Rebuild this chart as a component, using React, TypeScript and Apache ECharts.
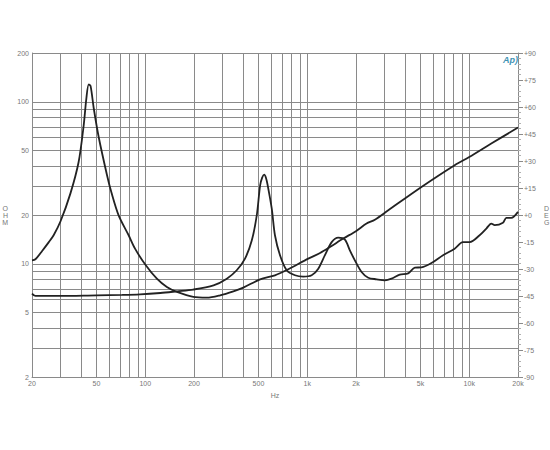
import React, { useEffect, useRef } from "react";
import * as echarts from "echarts";

const xGrid = [20,30,40,50,60,70,80,90,100,200,300,400,500,600,700,800,900,1000,2000,3000,4000,5000,6000,7000,8000,9000,10000,20000];
const xLabels = [20,50,100,200,500,1000,2000,5000,10000,20000];
const yGrid = [2,3,4,5,6,7,8,9,10,20,30,40,50,60,70,80,90,100,200];
const yLabels = [2,5,10,20,50,100,200];
const phaseSign = (v: number) => (v >= 0 ? "+" + v : String(v));

const curveAFreq = [20,21,23.1,25.4,27.2,30,34.5,38.8,41.7,43.3,44.8,46,48.1,51.6,58.1,61.8,68.5,79,86.5,100,118,136,157,198,240,290,350,403,512,632,764,1015,1200,1381,1668,1997,2324,2615,3164,5071,8130,10000,13680,20000];
const curveAOhm = [10.5,10.66,12,13.6,15,18.3,27.1,42.5,71.6,104.7,128,125,91.2,60.6,35.2,27.6,19.9,15,12.4,9.9,8.09,7.19,6.7,6.24,6.18,6.39,6.76,7.13,8.02,8.49,9.25,10.76,11.65,12.68,14.3,15.9,17.7,18.7,21.4,29.8,40.6,45.6,55.2,69.3];

const curveBFreq = [20,21,30,50,72,93,124,157,198,264,319,367,413,455,488,512,527,542,556,570,604,632,679,747,840,946,1065,1170,1286,1416,1554,1708,1833,1968,2165,2380,2680,3013,3314,3727,4196,4616,5071,5845,6890,8130,9140,10070,11590,12760,13680,14360,16150,16950,18190,20000];
const curveBOhm = [6.55,6.33,6.33,6.39,6.42,6.47,6.6,6.76,6.93,7.36,8.09,9.12,10.76,13.97,19.9,30.5,34,35.5,34,30.5,21.9,15,11.3,9.12,8.49,8.33,8.49,9.33,11.3,13.6,14.5,14.1,12.1,10.5,8.9,8.2,8.02,7.9,8.09,8.57,8.73,9.46,9.5,10.1,11.3,12.4,13.6,13.6,15,16.5,17.7,17.3,17.9,19.2,19.2,20.9];

const zip = (a: number[], b: number[]) => a.map((v, i) => [v, b[i]]);

const GREY = "#8a8a8a";
const TEXT = "#777777";

export default function App() {
  const ref = useRef<HTMLDivElement>(null);
  useEffect(() => {
    const chart = echarts.init(ref.current!, null, { renderer: "svg" });
    const lineStyle = { color: GREY, width: 1 };
    const labelBase = { color: TEXT, fontSize: 7, fontFamily: "Liberation Sans" };
    chart.setOption({
      animation: false,
      backgroundColor: "#ffffff",
      grid: { left: 32, right: 32, top: 53, height: 324, containLabel: false, outerBoundsMode: "none" },
      xAxis: {
        type: "log",
        min: 20,
        max: 20000,
        name: "Hz",
        nameLocation: "middle",
        nameGap: 15,
        nameTextStyle: labelBase,
        axisLine: { show: true, onZero: false, lineStyle },
        axisTick: { show: false, customValues: xGrid },
        minorTick: { show: false },
        splitLine: { show: true, lineStyle },
        axisLabel: {
          ...labelBase,
          margin: 3,
          customValues: xLabels,
          hideOverlap: false,
          showMinLabel: true,
          showMaxLabel: true,
          formatter: (v: number) => (v >= 1000 ? v / 1000 + "k" : String(v)),
        },
      },
      yAxis: [
        {
          type: "log",
          min: 2,
          max: 200,
          name: "O\nH\nM",
          nameLocation: "middle",
          nameRotate: 0,
          nameGap: 24,
          nameTextStyle: { ...labelBase, lineHeight: 7 },
          axisLine: { show: true, onZero: false, lineStyle },
          axisTick: { show: false, customValues: yGrid },
          minorTick: { show: false },
          splitLine: { show: true, lineStyle },
          axisLabel: {
            ...labelBase,
            margin: 3,
            customValues: yLabels,
            showMinLabel: true,
            showMaxLabel: true,
            formatter: (v: number) => String(v),
          },
        },
        {
          type: "value",
          min: -90,
          max: 90,
          interval: 15,
          position: "right",
          name: "D\nE\nG",
          nameLocation: "middle",
          nameRotate: 0,
          nameGap: 26,
          nameTextStyle: { ...labelBase, lineHeight: 7 },
          axisLine: { show: true, onZero: false, lineStyle },
          axisTick: { show: true, length: 5, lineStyle },
          minorTick: { show: true, splitNumber: 5, length: 3, lineStyle: { color: "#b0b0b0", width: 1 } },
          splitLine: { show: false },
          axisLabel: { ...labelBase, margin: 6, formatter: phaseSign },
        },
      ],
      series: [
        {
          type: "line",
          data: zip(curveAFreq, curveAOhm),
          smooth: 0.3,
          showSymbol: false,
          z: 5,
          lineStyle: { color: "#222222", width: 1.8 },
        },
        {
          type: "line",
          data: zip(curveBFreq, curveBOhm),
          smooth: 0.3,
          showSymbol: false,
          z: 5,
          lineStyle: { color: "#222222", width: 1.8 },
        },
      ],
      graphic: [
        {
          type: "text",
          x: 503,
          y: 55,
          z: 10,
          style: { text: "Ap)", fill: "#3f93b5", font: "italic bold 9px 'Liberation Sans'" },
        },
      ],
    });
    return () => chart.dispose();
  }, []);
  return <div ref={ref} style={{ position: "absolute", left: 0, top: 0, width: 550, height: 450 }} />;
}
